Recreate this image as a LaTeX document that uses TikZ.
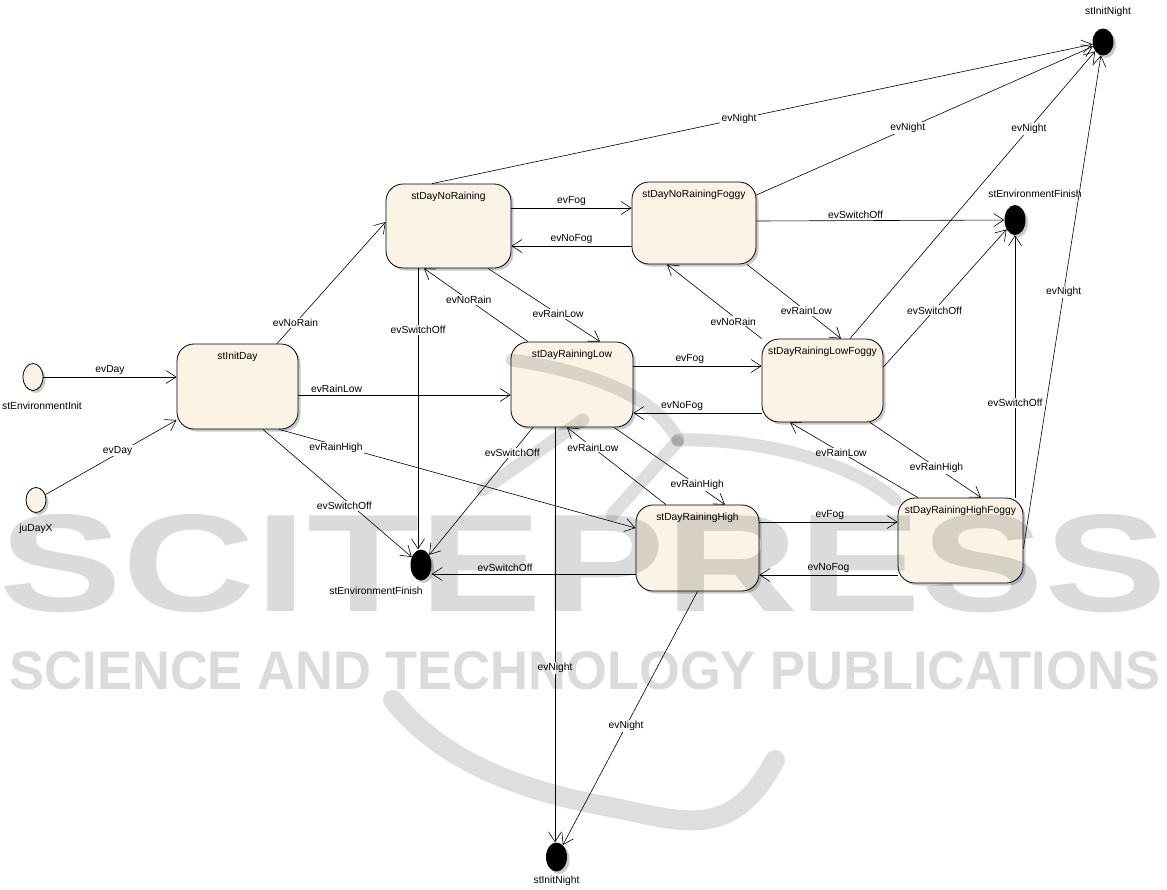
\documentclass[tikz,border=0pt]{standalone}
\usepackage{fontspec}
\setmainfont{Liberation Sans}
\usetikzlibrary{arrows.meta,shadows,shapes.geometric}
\definecolor{statefill}{RGB}{251,243,230}

\begin{document}
\begin{tikzpicture}[x=1pt,y=-1pt,
  font=\fontsize{10.3}{12}\selectfont,
  shade/.style={drop shadow={shadow xshift=2.5pt,shadow yshift=-2.5pt,fill=black!35,opacity=0.6}},
  state/.style={draw=black,line width=0.8pt,fill=statefill,rounded corners=17pt,
    inner sep=0pt,shade},
  stname/.style={anchor=north,inner sep=0pt,yshift=-8pt},
  initial/.style={ellipse,draw=black,line width=0.8pt,fill=statefill,
    minimum width=20pt,minimum height=27pt,inner sep=0pt,shade},
  final/.style={ellipse,fill=black,minimum width=21pt,minimum height=29pt,
    inner sep=0pt,shade},
  tr/.style={draw=black,line width=0.6pt,-{Straight Barb[length=10pt,width=13pt,line width=0.6pt]}},
  onl/.style={fill=white,inner sep=1.2pt},
  abl/.style={above,inner sep=2pt},
  wmark/.style={text=black,text opacity=0.14,inner sep=0pt}
]
\useasboundingbox[fill=white] (0,0) rectangle (1167,889);

% ---- states ----
\node[initial,label={[xshift=9pt,label distance=8pt]below:stEnvironmentInit}] (EnvInit) at (33,377) {};
\node[initial,minimum height=25pt,label={[label distance=8pt]below:juDayX}] (juDayX) at (36,500) {};

\node[state,minimum width=121pt,minimum height=85pt,label={[stname]north:stInitDay}] (InitDay) at (237.5,386.5) {};
\node[state,minimum width=125pt,minimum height=84pt,label={[stname]north:stDayNoRaining}] (NoRaining) at (448.5,226) {};
\node[state,minimum width=124pt,minimum height=82pt,label={[stname]north:stDayNoRainingFoggy}] (NoRainingFoggy) at (694,223) {};
\node[state,minimum width=122pt,minimum height=85pt,label={[stname]north:stDayRainingLow}] (RainingLow) at (572,384.5) {};
\node[state,minimum width=121pt,minimum height=83pt,label={[stname]north:stDayRainingLowFoggy}] (RainingLowFoggy) at (822.5,380.5) {};
\node[state,minimum width=123pt,minimum height=86pt,label={[stname]north:stDayRainingHigh}] (RainingHigh) at (697.5,548) {};
\node[state,minimum width=125pt,minimum height=85pt,label={[stname]north:stDayRainingHighFoggy}] (RainingHighFoggy) at (960.5,540.5) {};

\node[final,minimum height=31pt,label={[xshift=-45pt,label distance=3pt]below:stEnvironmentFinish}] (EnvFinishL) at (421,565) {};
\node[final,minimum height=30pt,label={[xshift=20pt,label distance=4pt]above:stEnvironmentFinish}] (EnvFinishR) at (1015,220) {};
\node[final,minimum height=27pt,label={[xshift=5pt,label distance=8pt]above:stInitNight}] (InitNightTop) at (1103,42) {};
\node[final,label={[label distance=1pt]below:stInitNight}] (InitNightBot) at (556.5,857) {};

% ---- transitions ----
\draw[tr] (EnvInit.east) -- node[abl] {evDay} (EnvInit.east -| InitDay.west);
\draw[tr] (juDayX) -- node[onl,pos=0.55,yshift=3pt] {evDay} ([yshift=-33.5pt]InitDay.west);

\draw[tr] ([xshift=39.5pt]InitDay.north) -- node[onl,pos=0.17] {evNoRain} ([yshift=4pt]NoRaining.west);
\draw[tr] ([yshift=-8.5pt]InitDay.east) -- node[abl,pos=0.18] {evRainLow} ([yshift=-8.5pt]InitDay.east -| RainingLow.west);
\draw[tr] ([xshift=41.5pt]InitDay.south) -- node[onl,pos=0.16,yshift=-3pt] {evRainHigh} ([yshift=20pt]RainingHigh.west);
\draw[tr] ([xshift=25.5pt]InitDay.south) -- node[onl,pos=0.6,xshift=-8pt] {evSwitchOff} (EnvFinishL);

\draw[tr] ([xshift=-30.5pt]NoRaining.south) -- node[onl,pos=0.22] {evSwitchOff} ([xshift=-3pt]EnvFinishL.north);
\draw[tr] ([yshift=18pt]NoRaining.east) -- node[abl] {evFog} ([yshift=18pt]NoRaining.east -| NoRainingFoggy.west);
\draw[tr] ([yshift=-23pt]NoRainingFoggy.west) -- node[abl] {evNoFog} ([yshift=-23pt]NoRainingFoggy.west -| NoRaining.east);
\draw[tr] ([xshift=-44pt]RainingLow.north) -- node[onl,pos=0.57] {evNoRain} ([xshift=-24.5pt]NoRaining.south);
\draw[tr] ([xshift=39.5pt]NoRaining.south) -- node[onl,pos=0.625] {evRainLow} ([xshift=28pt]RainingLow.north);
\draw[tr] ([xshift=-16.5pt]NoRaining.north) -- node[onl,pos=0.465] {evNight} (InitNightTop);

\draw[tr] ([yshift=28pt]NoRainingFoggy.east) -- node[onl,pos=0.45] {evNight} (InitNightTop);
\draw[tr] ([yshift=2pt]NoRainingFoggy.east) -- node[abl,pos=0.4] {evSwitchOff} (EnvFinishR);
\draw[tr] (RainingLowFoggy.north west) -- node[onl,pos=0.3,yshift=-5pt] {evNoRain} ([xshift=-27pt]NoRainingFoggy.south);
\draw[tr] ([xshift=53pt]NoRainingFoggy.south) -- node[onl,pos=0.63] {evRainLow} ([xshift=18.5pt]RainingLowFoggy.north);

\draw[tr] ([xshift=27.5pt]RainingLowFoggy.north) -- node[onl,pos=0.73] {evNight} (InitNightTop);
\draw[tr] ([yshift=13.5pt]RainingLowFoggy.east) -- node[onl,pos=0.44,xshift=-3pt,yshift=-4pt] {evSwitchOff} (EnvFinishR);
\draw[tr] ([yshift=18.5pt]RainingLow.east) -- node[abl,pos=0.44] {evFog} ([yshift=18.5pt]RainingLow.east -| RainingLowFoggy.west);
\draw[tr] ([yshift=-32.5pt]RainingLowFoggy.west) -- node[abl,pos=0.62] {evNoFog} ([yshift=-32.5pt]RainingLowFoggy.west -| RainingLow.east);

\draw[tr] ([xshift=-39pt]RainingLow.south) -- node[onl,pos=0.2] {evSwitchOff} (EnvFinishL);
\draw[tr] ([xshift=-17pt]RainingLow.south) -- node[onl,pos=0.58] {evNight} ([xshift=-17pt]RainingLow.south |- InitNightBot.north);
\draw[tr] ([xshift=-31.5pt]RainingHigh.north) -- node[onl,pos=0.74] {evRainLow} ([xshift=-5pt]RainingLow.south);
\draw[tr] ([xshift=42pt]RainingLow.south) -- node[onl,pos=0.75] {evRainHigh} ([xshift=27.5pt]RainingHigh.north);

\draw[tr] ([yshift=26pt]RainingHigh.east) -- node[abl,pos=0.51] {evFog} ([yshift=26pt]RainingHigh.east -| RainingHighFoggy.west);
\draw[tr] ([yshift=-34.5pt]RainingHighFoggy.west) -- node[abl] {evNoFog} ([yshift=-34.5pt]RainingHighFoggy.west -| RainingHigh.east);
\draw[tr] ([yshift=-26pt]RainingHigh.west) -- node[abl,pos=0.64] {evSwitchOff} ([yshift=-26pt]RainingHigh.west -| EnvFinishL.east);
\draw[tr] (RainingHigh.south) -- node[onl,pos=0.53] {evNight} (InitNightBot);

\draw[tr] ([xshift=-42.5pt]RainingHighFoggy.north) -- node[onl,pos=0.6] {evRainLow} ([xshift=-32.5pt]RainingLowFoggy.south);
\draw[tr] ([xshift=47.5pt]RainingLowFoggy.south) -- node[onl,pos=0.6] {evRainHigh} ([xshift=20.5pt]RainingHighFoggy.north);
\draw[tr] ([xshift=54.5pt]RainingHighFoggy.north) -- node[onl,pos=0.36] {evSwitchOff} (EnvFinishR.south);
\draw[tr] ([yshift=-8pt]RainingHighFoggy.east) -- node[onl,pos=0.52] {evNight} (InitNightTop);

% ---- publisher watermark ----
\node[wmark] (wmA) at (583.5,564) {\resizebox{1167pt}{97pt}{\bfseries SCITEPRESS}};
\node[wmark] (wmB) at (585,671) {\resizebox{1150pt}{38pt}{\bfseries SCIENCE AND TECHNOLOGY PUBLICATIONS}};
\begin{scope}[draw=black,draw opacity=0.13,line width=13pt,line cap=round]
  \draw (512,360) .. controls (590,372) and (655,395) .. (678,440);
  \draw (678,440) .. controls (760,438) and (850,462) .. (895,500);
  \draw (677,442) -- (612,515);
  \draw (583,420) -- (483,490);
  \draw[line width=20pt] (393,700) .. controls (440,760) and (520,790) .. (600,805)
        .. controls (680,820) and (730,845) .. (775,760);
\end{scope}
\end{tikzpicture}
\end{document}
